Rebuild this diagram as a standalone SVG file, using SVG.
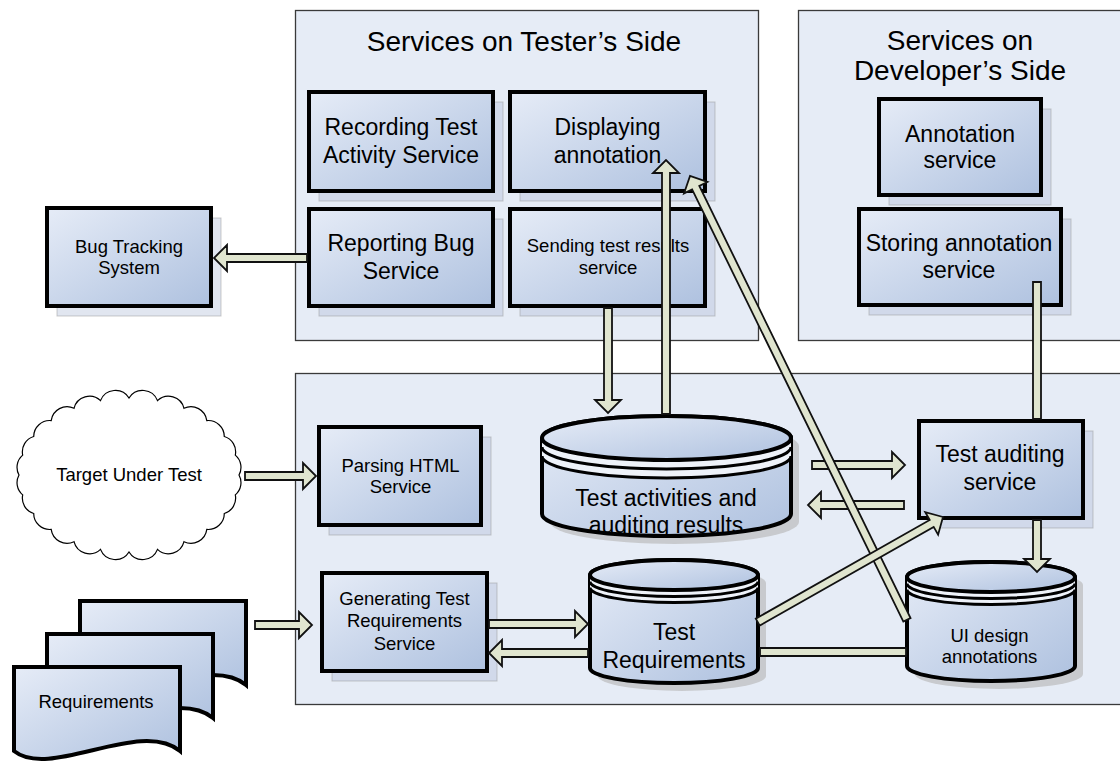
<svg xmlns="http://www.w3.org/2000/svg" width="1120" height="765" viewBox="0 0 1120 765">
  <defs>
    <linearGradient id="fillGrad" x1="0" y1="0" x2="1" y2="1">
      <stop offset="0" stop-color="#e6ecf7"/>
      <stop offset="1" stop-color="#aec1df"/>
    </linearGradient>
    <style>
      .cont { fill: #e6ecf6; stroke: #3a3a3a; stroke-width: 1.3; }
      .box { fill: url(#fillGrad); stroke: #000; stroke-width: 4; }
      .shd { fill: #a9b8d3; fill-opacity: 0.35; stroke: #9a9a9a; stroke-opacity: 0.5; stroke-width: 1; }
      .cshd { fill: #b9b9b9; opacity: 0.65; }
      .band { fill: #eef2f9; stroke: none; }
      .ring { fill: none; stroke: #000; stroke-width: 3; }
      .doc { fill: url(#fillGrad); stroke: #000; stroke-width: 4; stroke-linejoin: miter; }
      .cloud { fill: #fff; stroke: #000; stroke-width: 1.2; }
      .arr { fill: #e0e5cf; stroke: #111; stroke-width: 1.8; stroke-linejoin: miter; }
      text { font-family: "Liberation Sans", Arial, sans-serif; fill: #000; text-anchor: middle; }
      .t28 { font-size: 28px; }
      .t23 { font-size: 23px; }
      .t18 { font-size: 18.5px; }
    </style>
  </defs>

  <rect width="1120" height="765" fill="#fff"/>

  <!-- grouping panels -->
  <g id="panel-tester">
    <rect class="cont" x="295.5" y="10.5" width="463" height="330"/>
    <text class="t28" x="524" y="51">Services on Tester’s Side</text>
  </g>
  <g id="panel-developer">
    <rect class="cont" x="798.5" y="10.5" width="330" height="330"/>
    <text class="t28" x="960" y="50">Services on</text>
    <text class="t28" x="960" y="80">Developer’s Side</text>
  </g>
  <g id="panel-core">
    <rect class="cont" x="295.5" y="373.5" width="830" height="331"/>
  </g>

  <!-- tester side services -->
  <g id="recording-test-activity">
    <rect class="shd" x="319" y="102" width="184" height="99"/>
    <rect class="box" x="309" y="92" width="184" height="99"/>
    <text class="t23" x="401" y="135">Recording Test</text>
    <text class="t23" x="401" y="163">Activity Service</text>
  </g>
  <g id="displaying-annotation">
    <rect class="shd" x="520" y="102" width="195" height="99"/>
    <rect class="box" x="510" y="92" width="195" height="99"/>
    <text class="t23" x="607.5" y="135">Displaying</text>
    <text class="t23" x="607.5" y="163">annotation</text>
  </g>
  <g id="reporting-bug">
    <rect class="shd" x="319" y="219" width="184" height="97"/>
    <rect class="box" x="309" y="209" width="184" height="97"/>
    <text class="t23" x="401" y="251">Reporting Bug</text>
    <text class="t23" x="401" y="279">Service</text>
  </g>
  <g id="sending-test-results">
    <rect class="shd" x="520" y="219" width="195" height="97"/>
    <rect class="box" x="510" y="209" width="195" height="97"/>
    <text class="t18" x="608" y="252">Sending test results</text>
    <text class="t18" x="608" y="274">service</text>
  </g>

  <!-- developer side services -->
  <g id="annotation-service">
    <rect class="shd" x="889" y="109" width="162" height="96"/>
    <rect class="box" x="879" y="99" width="162" height="96"/>
    <text class="t23" x="960" y="142">Annotation</text>
    <text class="t23" x="960" y="168">service</text>
  </g>
  <g id="storing-annotation">
    <rect class="shd" x="869" y="219" width="202" height="96"/>
    <rect class="box" x="859" y="209" width="202" height="96"/>
    <text class="t23" x="959" y="251">Storing annotation</text>
    <text class="t23" x="959" y="278">service</text>
  </g>

  <!-- external system -->
  <g id="bug-tracking">
    <rect class="shd" x="57" y="218" width="164" height="98"/>
    <rect class="box" x="47" y="208" width="164" height="98"/>
    <text class="t18" x="129" y="253">Bug Tracking</text>
    <text class="t18" x="129" y="274">System</text>
  </g>

  <!-- system under test -->
  <g id="target-under-test">
    <path class="cloud" d="M239,475 A16,16 0 0 1 235.3,494.9 A16,16 0 0 1 224.3,513.5 A16,16 0 0 1 206.8,529.4 A16,16 0 0 1 184,541.7 A16,16 0 0 1 157.5,549.4 A16,16 0 0 1 129,552 A16,16 0 0 1 100.5,549.4 A16,16 0 0 1 74,541.7 A16,16 0 0 1 51.2,529.4 A16,16 0 0 1 33.7,513.5 A16,16 0 0 1 22.7,494.9 A16,16 0 0 1 19,475 A16,16 0 0 1 22.7,455.1 A16,16 0 0 1 33.7,436.5 A16,16 0 0 1 51.2,420.6 A16,16 0 0 1 74,408.3 A16,16 0 0 1 100.5,400.6 A16,16 0 0 1 129,398 A16,16 0 0 1 157.5,400.6 A16,16 0 0 1 184,408.3 A16,16 0 0 1 206.8,420.6 A16,16 0 0 1 224.3,436.5 A16,16 0 0 1 235.3,455.1 A16,16 0 0 1 239,475 Z"/>
    <text class="t18" x="129" y="481">Target Under Test</text>
  </g>

  <!-- requirement documents (stack of three) -->
  <g id="requirements">
    <path class="doc" transform="translate(80 601)" d="M0,0 H166 V84 C126,51 36,113 0,84 Z"/>
    <path class="doc" transform="translate(47 634)" d="M0,0 H166 V84 C126,51 36,113 0,84 Z"/>
    <path class="doc" transform="translate(14 667)" d="M0,0 H166 V84 C126,51 36,113 0,84 Z"/>
    <text class="t18" x="96" y="708">Requirements</text>
  </g>

  <!-- core services -->
  <g id="parsing-html">
    <rect class="shd" x="329" y="437" width="162" height="98"/>
    <rect class="box" x="319" y="427" width="162" height="98"/>
    <text class="t18" x="400.5" y="472">Parsing HTML</text>
    <text class="t18" x="400.5" y="493">Service</text>
  </g>
  <g id="generating-test-requirements">
    <rect class="shd" x="332" y="583" width="165" height="98"/>
    <rect class="box" x="322" y="573" width="165" height="98"/>
    <text class="t18" x="404.5" y="605">Generating Test</text>
    <text class="t18" x="404.5" y="627">Requirements</text>
    <text class="t18" x="404.5" y="650">Service</text>
  </g>
  <g id="test-auditing">
    <rect class="shd" x="929" y="431" width="164" height="97"/>
    <rect class="box" x="919" y="421" width="164" height="97"/>
    <text class="t23" x="1000" y="462">Test auditing</text>
    <text class="t23" x="1000" y="490">service</text>
  </g>

  <!-- data stores -->
  <g id="test-activities-store">
    <path class="cshd" transform="translate(8 8)" d="M542,438 V514 A124.5,22 0 0 0 791,514 V438 A124.5,22 0 0 0 542,438 Z"/>
    <path class="box" d="M542,438 V514 A124.5,22 0 0 0 791,514 V438 A124.5,22 0 0 0 542,438 Z"/>
    <path class="band" d="M542,438 A124.5,22 0 0 0 791,438 V456 A124.5,22 0 0 1 542,456 Z"/>
    <path class="ring" d="M542,447 A124.5,22 0 0 0 791,447 M542,456 A124.5,22 0 0 0 791,456"/>
    <ellipse class="box" cx="666.5" cy="438" rx="124.5" ry="22"/>
    <text class="t23" x="666" y="506">Test activities and</text>
    <text class="t23" x="666" y="533">auditing results</text>
  </g>
  <g id="test-requirements-store">
    <path class="cshd" transform="translate(8 8)" d="M590,575 V668 A84,15 0 0 0 758,668 V575 A84,15 0 0 0 590,575 Z"/>
    <path class="box" d="M590,575 V668 A84,15 0 0 0 758,668 V575 A84,15 0 0 0 590,575 Z"/>
    <path class="band" d="M590,575 A84,15 0 0 0 758,575 V587.5 A84,15 0 0 1 590,587.5 Z"/>
    <path class="ring" d="M590,581.5 A84,15 0 0 0 758,581.5 M590,587.5 A84,15 0 0 0 758,587.5"/>
    <ellipse class="box" cx="674" cy="575" rx="84" ry="15"/>
    <text class="t23" x="674" y="640">Test</text>
    <text class="t23" x="674" y="668">Requirements</text>
  </g>
  <g id="ui-design-store">
    <path class="cshd" transform="translate(8 8)" d="M907,577 V666 A84,15 0 0 0 1075,666 V577 A84,15 0 0 0 907,577 Z"/>
    <path class="box" d="M907,577 V666 A84,15 0 0 0 1075,666 V577 A84,15 0 0 0 907,577 Z"/>
    <path class="band" d="M907,577 A84,15 0 0 0 1075,577 V589.5 A84,15 0 0 1 907,589.5 Z"/>
    <path class="ring" d="M907,583.5 A84,15 0 0 0 1075,583.5 M907,589.5 A84,15 0 0 0 1075,589.5"/>
    <ellipse class="box" cx="991" cy="577" rx="84" ry="15"/>
    <text class="t18" x="989.5" y="642">UI design</text>
    <text class="t18" x="989.5" y="663">annotations</text>
  </g>

  <!-- block-arrow connectors -->
  <g id="connectors">
    <path class="arr" d="M307,254 H227 V245 L214,258 L227,271 V262 H307 Z"/>
    <path class="arr" d="M245,472 H303 V463 L316,476 L303,489 V480 H245 Z"/>
    <path class="arr" d="M255,621 H299 V612 L312,625 L299,638 V629 H255 Z"/>
    <path class="arr" d="M604,308 V400 H595 L608,413 L621,400 H612 V308 Z"/>
    <path class="arr" d="M662,414 V173 H653 L666,160 L679,173 H670 V414 Z"/>
    <path class="arr" d="M812,461 H892 V452 L905,465 L892,478 V469 H812 Z"/>
    <path class="arr" d="M904,501 H821 V492 L808,505 L821,518 V509 H904 Z"/>
    <path class="arr" d="M1033,282 H1041 V419 H1033 Z"/>
    <path class="arr" d="M1033,520 V559 H1024 L1037,572 L1050,559 H1041 V520 Z"/>
    <path class="arr" d="M760,648 H906 V656 H760 Z"/>
    <path class="arr" d="M489,620 H575 V611 L588,624 L575,637 V628 H489 Z"/>
    <path class="arr" d="M588,649 H502 V640 L489,653 L502,666 V657 H588 Z"/>
    <path class="arr" transform="translate(690 176) rotate(-116.05)" d="M0,0 L-13,-13 L-13,-4 L-494,-4 L-494,4 L-13,4 L-13,13 Z"/>
    <path class="arr" transform="translate(943 517) rotate(-29.58)" d="M0,0 L-13,-13 L-13,-4 L-213,-4 L-213,4 L-13,4 L-13,13 Z"/>
  </g>
</svg>
